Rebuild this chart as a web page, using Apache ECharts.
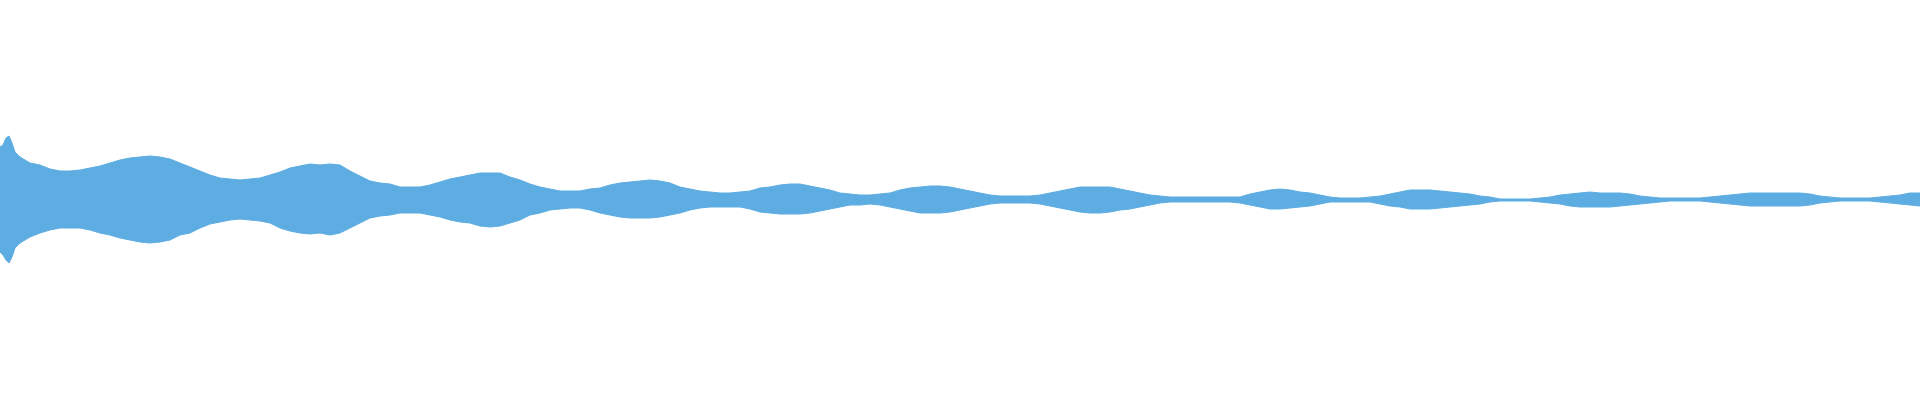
<!DOCTYPE html>
<html>
<head>
<meta charset="utf-8">
<script src="https://cdn.jsdelivr.net/npm/echarts@6/dist/echarts.min.js"></script>
<style>html,body{margin:0;padding:0;background:#fff}#c{width:1920px;height:400px}</style>
</head>
<body>
<div id="c"></div>
<script>
// time in milliseconds
const TIME_MS = [
  0,15,30,45,60,75,100,125,
  150,200,250,300,350,400,450,500,550,600,
  650,700,750,800,850,900,950,1000,1050,1100,
  1150,1200,1250,1300,1350,1400,1450,1500,1550,1600,
  1650,1700,1750,1800,1850,1900,1950,2000,2050,2100,
  2150,2200,2250,2300,2350,2400,2450,2500,2550,2600,
  2650,2700,2750,2800,2850,2900,2950,3000,3050,3100,
  3150,3200,3250,3300,3350,3400,3450,3500,3550,3600,
  3650,3700,3750,3800,3850,3900,3950,4000,4050,4100,
  4150,4200,4250,4300,4350,4400,4450,4500,4550,4600,
  4650,4700,4750,4800,4850,4900,4950,5000,5050,5100,
  5150,5200,5250,5300,5350,5400,5450,5500,5550,5600,
  5650,5700,5750,5800,5850,5900,5950,6000,6050,6100,
  6150,6200,6250,6300,6350,6400,6450,6500,6550,6600,
  6650,6700,6750,6800,6850,6900,6950,7000,7050,7100,
  7150,7200,7250,7300,7350,7400,7450,7500,7550,7600,
  7650,7700,7750,7800,7850,7900,7950,8000,8050,8100,
  8150,8200,8250,8300,8350,8400,8450,8500,8550,8600,
  8650,8700,8750,8800,8850,8900,8950,9000,9050,9100,
  9150,9200,9250,9300,9350,9400,9450,9500,9550,9600
];
// upper envelope (max sample, % of full scale)
const PEAK_MAX = [
  26.5,27.5,31,32,28.5,24,21.5,20,
  18.5,17.5,15.5,14.5,14.5,15,16,17,18.5,20,
  21,21.5,22,21.5,20.5,18.5,16.5,14.5,12.5,11,
  10.5,10,10.5,11,12.5,14,16,17,18,17.5,
  18,17.5,14.5,12,9.5,8.5,8,6.5,6.5,6.5,
  7.5,9,10.5,11.5,12.5,13.5,13.5,13.5,11.5,10,
  8,6.5,5.5,4.5,4.5,4.5,5.5,6,7.5,8.5,
  9,9.5,10,9.5,8.5,6.5,5.5,4.5,4,3.5,
  3.5,4,4.5,6,6.5,7.5,8,8,7,6,
  5,3.5,3,2.5,2.5,3,3.5,5,6,6.5,
  7,7,6.5,5.5,4.5,3.5,2.5,2,2,2,
  2,2.5,3.5,4.5,5.5,6.5,6.5,6.5,6.5,5.5,
  4.5,3.5,2.5,2,1.5,1.5,1.5,1.5,1.5,1.5,
  1.5,1.5,3,4,5,5.5,5,4,3.5,2.5,
  1.5,1,1,1,1.5,2,3,4,5,5,
  5,4.5,4,3.5,3,2,1.5,0.5,0.5,0.5,
  0.5,1,1.5,2.5,3,3.5,4,3.5,3.5,3.5,
  3,2,1.5,1,1,1,1,1,1.5,2,
  2.5,3,3.5,3.5,3.5,3.5,3.5,3.5,3,2,
  1.5,1,1,1,1,1.5,2,2.5,3.5,3.5
];
// lower envelope (min sample, % of full scale)
const PEAK_MIN = [
  -26,-27.5,-30,-31.5,-28.5,-24,-21.5,-20,
  -18.5,-16.5,-15,-14,-14,-14,-15,-16.5,-17.5,-19,
  -20,-21,-21.5,-21,-20,-17.5,-16.5,-14,-12,-11,
  -10,-9.5,-10,-10.5,-11.5,-14,-15.5,-16.5,-17,-16.5,
  -17.5,-16.5,-14,-11.5,-9,-8,-7.5,-6.5,-6.5,-6.5,
  -7.5,-8.5,-10,-11,-11.5,-13,-13.5,-13,-11.5,-10,
  -7.5,-6.5,-5,-4.5,-4,-4,-5,-6.5,-7.5,-8.5,
  -9,-9,-9,-8.5,-7.5,-6.5,-5,-4,-3.5,-3.5,
  -3.5,-3.5,-4.5,-6,-6.5,-7,-7,-7,-6.5,-5.5,
  -4.5,-3.5,-2.5,-2.5,-2,-2.5,-3.5,-4.5,-5.5,-6.5,
  -6.5,-6.5,-6,-5,-4,-3,-2,-1.5,-1.5,-1.5,
  -1.5,-2,-3,-4,-5,-6,-6.5,-6.5,-6,-5,
  -4.5,-3.5,-2.5,-1.5,-1,-1,-1,-1,-1,-1,
  -1,-1.5,-2.5,-3.5,-4.5,-4.5,-4,-3.5,-3,-2,
  -1,-1,-1,-1,-1,-2,-3,-3.5,-4.5,-4.5,
  -4.5,-4,-3.5,-3,-2.5,-2,-1,-0.5,-0.5,-0.5,
  -0.5,-1,-1.5,-2,-3,-3.5,-3.5,-3.5,-3.5,-3,
  -2.5,-2,-1.5,-1,-0.5,-0.5,-0.5,-0.5,-1,-1.5,
  -2,-2.5,-3,-3,-3,-3,-3,-3,-2.5,-1.5,
  -1,-0.5,-0.5,-0.5,-0.5,-1,-1.5,-2,-2.5,-3
];

const COLOR = '#5DADE2';
const chart = echarts.init(document.getElementById('c'), null, {renderer: 'canvas'});
const upper = TIME_MS.map((t, i) => [t, PEAK_MAX[i]]);
const lower = TIME_MS.map((t, i) => [t, PEAK_MIN[i]]);
const common = {
  type: 'line', showSymbol: false, symbol: 'none', sampling: null,
  lineStyle: {width: 1, color: COLOR}, itemStyle: {color: COLOR},
  areaStyle: {color: COLOR, opacity: 1, origin: 'auto'}
};
chart.setOption({
  animation: false,
  backgroundColor: '#ffffff',
  grid: {left: 0, right: 0, top: 0, bottom: 0},
  xAxis: {type: 'value', min: 0, max: 9600, show: false},
  yAxis: {type: 'value', min: -100, max: 100, show: false},
  series: [
    Object.assign({name: 'max', data: upper}, common),
    Object.assign({name: 'min', data: lower}, common)
  ]
});
</script>
</body>
</html>
